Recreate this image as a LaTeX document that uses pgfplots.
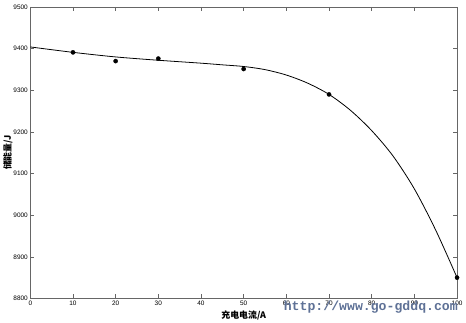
\documentclass[border=0pt]{standalone}
\usepackage{pgfplots}
\pgfplotsset{compat=1.18}
\usepackage{fontspec}
\setmainfont{Liberation Sans}
\newfontfamily\cjk{Noto Sans CJK SC}
\newfontfamily\wm{Liberation Mono}
\definecolor{wmcol}{HTML}{5E7196}
\begin{document}
\begin{tikzpicture}
\begin{axis}[
  scale only axis,
  width=429bp, height=293bp,
  xmin=0, xmax=100, ymin=8800, ymax=9500,
  xtick={0,10,...,100}, ytick={8800,8900,...,9500},
  tick align=inside,
  major tick length=4bp,
  axis line style={draw=black!60, line width=0.6pt},
  every tick/.style={black!60, line width=0.5pt},
  tick label style={font=\fontsize{6.5}{7}\selectfont},
  /pgf/number format/assume math mode=true,
  /pgf/number format/set thousands separator={},
  xticklabel style={yshift=1bp},
  yticklabel style={xshift=1bp},
  xlabel={\cjk\bfseries 充电电流/A},
  ylabel={\cjk\bfseries 储能量/J},
  label style={font=\fontsize{9}{10}\selectfont},
  xlabel style={yshift=2bp},
  ylabel style={yshift=-6bp},
  clip=false,
]
\addplot[black, line width=0.8pt, smooth, tension=0.5] coordinates {
(0,9404) (10,9391) (20,9380) (30,9372) (40,9365) (45,9361) (50,9357)
(55,9349.5) (60,9336.5) (65,9317) (70,9290) (75,9252) (80,9203)
(85,9142) (90,9063) (95,8964) (100,8850)};
\addplot[only marks, mark=*, mark size=2.1pt, black] coordinates {
(10,9391) (20,9370) (30,9376) (50,9351) (70,9290) (100,8850)};
\end{axis}
\node[anchor=east, text=wmcol, font=\wm\bfseries\fontsize{13.3}{14}\selectfont, inner sep=0pt] at ([xshift=1bp,yshift=-9bp]current axis.south east) {http://www.go-gddq.com};
\path ([xshift=-28bp,yshift=-22bp]current axis.south west) rectangle ([xshift=9bp,yshift=7bp]current axis.north east);
\end{tikzpicture}
\end{document}
